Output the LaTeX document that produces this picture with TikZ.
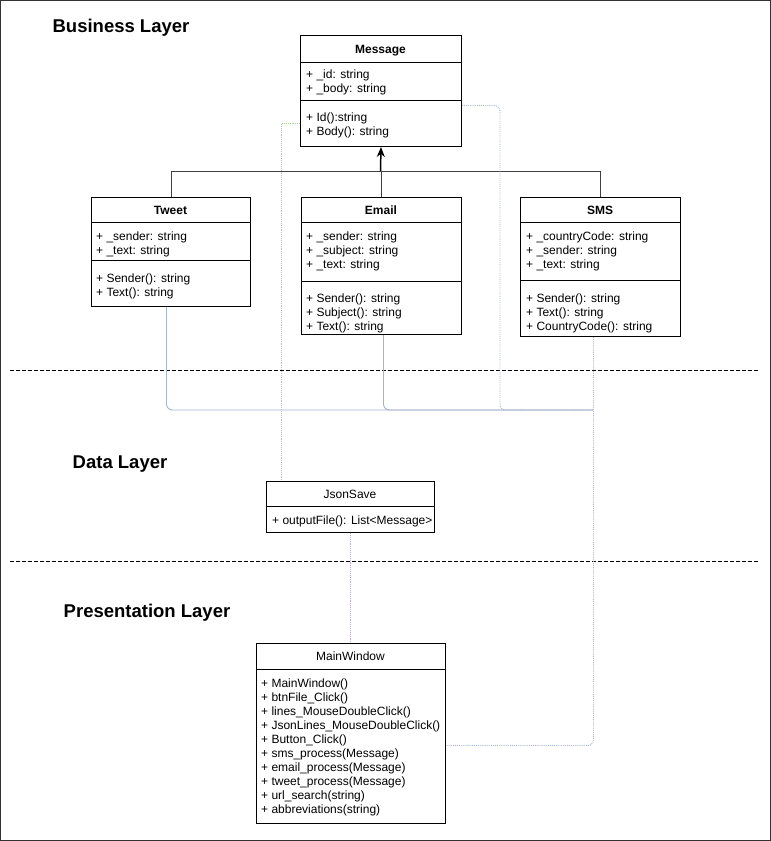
\documentclass[tikz,border=0pt]{standalone}
\usepackage{fontspec}
\setmainfont{Liberation Sans}
\usetikzlibrary{arrows.meta,calc}

\tikzset{
  classbox/.style={draw, line width=1pt, anchor=north west, inner sep=0pt},
  classtitle/.style={anchor=base, inner sep=0pt, font=\bfseries\fontsize{12}{14}\selectfont},
  plaintitle/.style={anchor=base, inner sep=0pt, font=\fontsize{12}{14}\selectfont},
  members/.style={anchor=base west, align=left, inner sep=0pt, font=\fontsize{12}{14}\selectfont},
  layertitle/.style={anchor=base, inner sep=0pt, font=\bfseries\fontsize{18.5}{22}\selectfont},
  inherit/.style={draw=black!75, line width=1pt},
  link/.style={draw={rgb,255:red,165;green,180;blue,205}, line width=0.9pt, rounded corners=6pt},
}

\begin{document}
\begin{tikzpicture}[x=1pt, y=-1pt]
  \useasboundingbox (0,0) rectangle (771,841);
  \draw[black!80, line width=1pt] (0.5,0.5) rectangle (770.5,840.5); % Frame

  % Layers
  \node[layertitle] (business) at (121,32) {Business Layer};
  \node[layertitle] (data) at (120,468) {Data Layer};
  \node[layertitle] (presentation) at (147,617) {Presentation Layer};
  \draw[line width=1pt, dash pattern=on 3.5pt off 2.5pt] (10,370) -- (758,370); % Business / Data
  \draw[line width=1pt, dash pattern=on 3.5pt off 2.5pt] (10,561) -- (758,561); % Data / Presentation

  % Message (members placed at the baseline of their last line)
  \node[classbox, minimum width=161pt, minimum height=111pt] (message) at (300,35) {};
  \draw[line width=1pt] (message.west |- 0,62) -- (message.east |- 0,62);
  \draw[line width=1pt] (message.west |- 0,100) -- (message.east |- 0,100);
  \node[classtitle] (message-title) at (380.5,53) {Message};
  \node[members] (message-attrs) at (306,92) {+ \_id: string\\+ \_body: string};
  \node[members] (message-ops) at (306,135) {+ Id():string\\+ Body(): string};

  % Tweet
  \node[classbox, minimum width=159pt, minimum height=109pt] (tweet) at (91,197) {};
  \draw[line width=1pt] (tweet.west |- 0,222) -- (tweet.east |- 0,222);
  \draw[line width=1pt] (tweet.west |- 0,260) -- (tweet.east |- 0,260);
  \node[classtitle] (tweet-title) at (170.5,214) {Tweet};
  \node[members] (tweet-attrs) at (96,254) {+ \_sender: string\\+ \_text: string};
  \node[members] (tweet-ops) at (96,296) {+ Sender(): string\\+ Text(): string};

  % Email
  \node[classbox, minimum width=160pt, minimum height=137pt] (email) at (301,197) {};
  \draw[line width=1pt] (email.west |- 0,222) -- (email.east |- 0,222);
  \draw[line width=1pt] (email.west |- 0,281) -- (email.east |- 0,281);
  \node[classtitle] (email-title) at (381,214) {Email};
  \node[members] (email-attrs) at (306,268) {+ \_sender: string\\+ \_subject: string\\+ \_text: string};
  \node[members] (email-ops) at (306,330) {+ Sender(): string\\+ Subject(): string\\+ Text(): string};

  % SMS
  \node[classbox, minimum width=160pt, minimum height=139pt] (sms) at (520,197) {};
  \draw[line width=1pt] (sms.west |- 0,222) -- (sms.east |- 0,222);
  \draw[line width=1pt] (sms.west |- 0,280) -- (sms.east |- 0,280);
  \node[classtitle] (sms-title) at (600,214) {SMS};
  \node[members] (sms-attrs) at (526,268) {+ \_countryCode: string\\+ \_sender: string\\+ \_text: string};
  \node[members] (sms-ops) at (526,330) {+ Sender(): string\\+ Text(): string\\+ CountryCode(): string};

  % JsonSave
  \node[classbox, minimum width=168pt, minimum height=51pt] (jsonsave) at (266,481) {};
  \draw[line width=1pt] (jsonsave.west |- 0,506) -- (jsonsave.east |- 0,506);
  \node[plaintitle] (jsonsave-title) at (350,498) {JsonSave};
  \node[members] (jsonsave-ops) at (272,524) {+ outputFile(): List<Message>};

  % MainWindow
  \node[classbox, minimum width=189pt, minimum height=180pt] (mainwin) at (256,643) {};
  \draw[line width=1pt] (mainwin.west |- 0,669) -- (mainwin.east |- 0,669);
  \node[plaintitle] (mainwin-title) at (350.5,660) {MainWindow};
  \node[members] (mainwin-ops) at (261,813) {+ MainWindow()\\+ btnFile\_Click()\\+ lines\_MouseDoubleClick()\\+ JsonLines\_MouseDoubleClick()\\+ Button\_Click()\\+ sms\_process(Message)\\+ email\_process(Message)\\+ tweet\_process(Message)\\+ url\_search(string)\\+ abbreviations(string)};

  % Inheritance
  \coordinate (fork) at (380.5,171);
  \draw[inherit] (tweet.north) |- (fork);
  \draw[inherit] (sms.north) |- (fork);
  \draw[inherit] (email.north) -- (email.north |- fork);
  \draw[inherit, draw=black, line width=1.5pt, -{Stealth[length=10pt, width=8pt]}] (fork) -- (message.south);

  % Links to MainWindow
  \coordinate (merge) at (593,410);
  \draw[link] ([xshift=-4.5pt]tweet.south) |- (merge);
  \draw[link] ([xshift=2pt]email.south) |- (merge);
  \draw[link, densely dotted] ([yshift=-14.5pt]message.east) -| ([xshift=-93pt]merge) -- (merge);
  \draw[link, densely dotted] ([xshift=-7pt]sms.south) |- ([yshift=-12pt]mainwin.east);

  % Message -- JsonSave -- MainWindow
  \draw[draw={rgb,255:red,175;green,205;blue,140}, line width=0.9pt, densely dotted] ([yshift=-32.5pt]message.west) -| ([xshift=-69pt]jsonsave.north);
  \draw[draw={rgb,255:red,185;green,170;blue,215}, line width=0.9pt, densely dotted] (jsonsave.south) -- (jsonsave.south |- mainwin.north);
\end{tikzpicture}
\end{document}
